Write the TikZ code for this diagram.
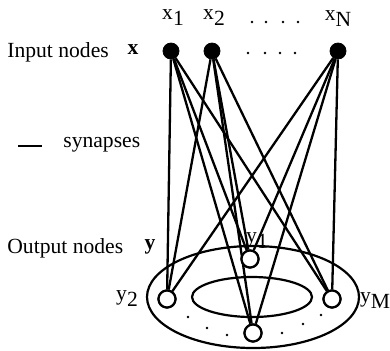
\documentclass[tikz,border=0pt]{standalone}
\usepackage{fontspec}
\setmainfont{Liberation Serif}
\begin{document}
\begin{tikzpicture}[x=0.5pt,y=-0.5pt,
  innode/.style={circle,fill=black,draw=black,inner sep=0pt,minimum size=8pt},
  outnode/.style={circle,draw=black,line width=1.1pt,fill=white,inner sep=0pt,minimum size=8.5pt},
  syn/.style={line width=1.15pt},
  lbl/.style={font=\fontsize{10.8}{12}\selectfont,inner sep=0pt},
  dotm/.style={circle,fill=black,inner sep=0pt,minimum size=1.4pt}]
\useasboundingbox (0,0) rectangle (390,350);
% ellipses
\draw[line width=1.1pt] (253,297) ellipse [x radius=106, y radius=51];
\draw[line width=1.1pt] (252,297) ellipse [x radius=60, y radius=20];
% input nodes
\node[innode] (x1) at (171,51) {};
\node[innode] (x2) at (212,51) {};
\node[innode] (xN) at (338,51) {};
% output nodes
\node[outnode] (y1) at (250,259) {};
\node[outnode] (y2) at (167,299) {};
\node[outnode] (y3) at (253,333) {};
\node[outnode] (yM) at (332,299) {};
% synapses
\foreach \i in {x1,x2,xN}{
  \foreach \o in {y1,y2,y3,yM}{
    \draw[syn] (\i) -- (\o);
  }
}
% redraw output nodes on top
\node[outnode] at (y1) {};
\node[outnode] at (y2) {};
\node[outnode] at (y3) {};
\node[outnode] at (yM) {};
% labels on inputs
\node[lbl] (lx1) at (173,18) {x\raisebox{-0.6ex}{1}};
\node[lbl] (lx2) at (214,18) {x\raisebox{-0.6ex}{2}};
\node[lbl] (lxN) at (338,19) {x\raisebox{-0.6ex}{N}};
\foreach \p [count=\k] in {252,266,283,298}{\node[dotm] (td\k) at (\p,22) {};}
\foreach \p [count=\k] in {248,265,280,295}{\node[dotm] (nd\k) at (\p,53) {};}
% bottom dots
\foreach \p/\q [count=\k] in {188/317,207/328,227/335,282/333,303/324,321/315}{\node[dotm] (bd\k) at (\p,\q) {};}
% output labels
\node[lbl] (ly1) at (257,241) {y\raisebox{-0.6ex}{1}};
\node[lbl] (ly2) at (127,299) {y\raisebox{-0.6ex}{2}};
\node[lbl] (lyM) at (375,301) {y\raisebox{-0.6ex}{M}};
% left labels
\node[lbl,anchor=west] (inl) at (7,52) {Input nodes};
\node[lbl] (inx) at (133,50) {\textbf{x}};
\coordinate (sa) at (18,146);
\coordinate (sb) at (42,146);
\draw[line width=1.4pt] (sa) -- (sb);
\node[lbl,anchor=west] (synl) at (63,145) {synapses};
\node[lbl,anchor=west] (outl) at (7,248) {Output nodes};
\node[lbl] (outy) at (150,247) {\textbf{y}};
\end{tikzpicture}
\end{document}
